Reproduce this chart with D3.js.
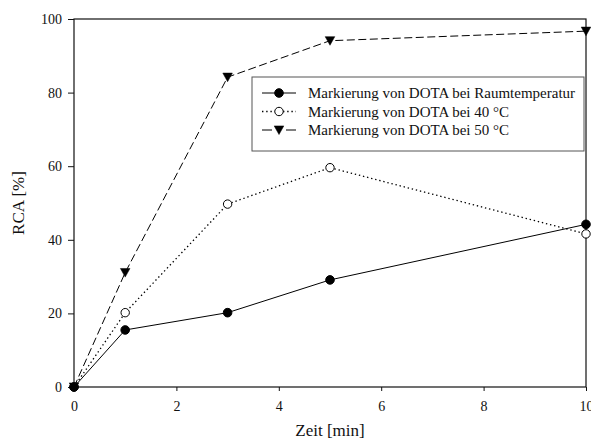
<!DOCTYPE html>
<html>
<head>
<meta charset="utf-8">
<script src="https://cdn.jsdelivr.net/npm/d3@7"></script>
<style>
html, body { margin: 0; padding: 0; background: #fff; }
svg { display: block; }
svg text { font-family: "Liberation Serif", "DejaVu Serif", serif; }
</style>
</head>
<body>
<svg id="chart" width="591" height="446"></svg>
<script>
// Data
const times = [0, 1, 3, 5, 10];
const rtValues = [0, 15.5, 20.2, 29.1, 44.2];
const t40Values = [0, 20.2, 49.7, 59.6, 41.6];
const t50Values = [0, 31.1, 84.2, 94.1, 96.7];
const seriesNames = [
  "Markierung von DOTA bei Raumtemperatur",
  "Markierung von DOTA bei 40 °C",
  "Markierung von DOTA bei 50 °C"
];
const xTicks = [0, 2, 4, 6, 8, 10];
const yTicks = [0, 20, 40, 60, 80, 100];
const xTitle = "Zeit [min]";
const yTitle = "RCA [%]";

const FONT = "Liberation Serif";
const svg = d3.select("#chart");
const L = 74, R = 586, T = 19, B = 387;
const x = d3.scaleLinear().domain([0, 10]).range([L, R]);
const y = d3.scaleLinear().domain([0, 100]).range([B, T]);

// frame
svg.append("rect").attr("x", L).attr("y", T).attr("width", R - L).attr("height", B - T)
  .attr("fill", "none").attr("stroke", "#111").attr("stroke-width", 1.2);

// axes
const xAxis = d3.axisBottom(x).tickValues(xTicks).tickSize(4).tickPadding(10).tickFormat(d3.format("d"));
const gx = svg.append("g").attr("transform", `translate(0,${B})`).call(xAxis)
  .attr("font-family", FONT).attr("font-size", 14);
gx.select(".domain").remove();
gx.selectAll("text").attr("fill", "#111");
gx.selectAll("line").attr("stroke", "#111");

const yAxis = d3.axisLeft(y).tickValues(yTicks).tickSize(6).tickPadding(6).tickFormat(d3.format("d"));
const gy = svg.append("g").attr("transform", `translate(${L},0)`).call(yAxis)
  .attr("font-family", FONT).attr("font-size", 14);
gy.select(".domain").remove();
gy.selectAll("text").attr("fill", "#111");
gy.selectAll("line").attr("stroke", "#111");

// titles
svg.append("text").attr("x", (L + R) / 2).attr("y", 436).attr("text-anchor", "middle")
  .attr("font-family", FONT).attr("font-size", 17).attr("fill", "#111").text(xTitle);
svg.append("text").attr("transform", `translate(24,${(T + B) / 2}) rotate(-90)`).attr("text-anchor", "middle")
  .attr("font-family", FONT).attr("font-size", 17).attr("fill", "#111").text(yTitle);

const series = [
  { name: seriesNames[0], values: rtValues, dash: null, marker: "filled", w: 1 },
  { name: seriesNames[1], values: t40Values, dash: "1.4,2.8", marker: "open", w: 1.3 },
  { name: seriesNames[2], values: t50Values, dash: "8,3.5", marker: "tri", w: 1 }
];

const line = d3.line().x(d => x(d[0])).y(d => y(d[1]));

function drawMarker(g, cx, cy, type) {
  if (type === "filled") {
    g.append("circle").attr("cx", cx).attr("cy", cy).attr("r", 4.3).attr("fill", "#000").attr("stroke", "#000");
  } else if (type === "open") {
    g.append("circle").attr("cx", cx).attr("cy", cy).attr("r", 4.2).attr("fill", "#fff").attr("stroke", "#000").attr("stroke-width", 1);
  } else {
    const s = 4.8;
    g.append("path").attr("d", `M${cx - s},${cy - s * 0.85}L${cx + s},${cy - s * 0.85}L${cx},${cy + s * 0.95}Z`)
      .attr("fill", "#000").attr("stroke", "#000").attr("stroke-width", 0.5);
  }
}

series.forEach(s => {
  const pts = times.map((t, i) => [t, s.values[i]]);
  const p = svg.append("path").datum(pts).attr("d", line).attr("fill", "none")
    .attr("stroke", "#000").attr("stroke-width", s.w);
  if (s.dash) p.attr("stroke-dasharray", s.dash);
});
[2, 1, 0].forEach(k => {
  const s = series[k];
  const g = svg.append("g");
  times.forEach((t, i) => drawMarker(g, x(t), y(s.values[i]), s.marker));
});

// legend
const lg = svg.append("g");
lg.append("rect").attr("x", 252).attr("y", 77).attr("width", 332).attr("height", 74)
  .attr("fill", "#fff").attr("stroke", "#555").attr("stroke-width", 1);
const rowY = [93, 111.5, 130];
series.forEach((s, i) => {
  const yy = rowY[i];
  const l = lg.append("line").attr("x1", 262).attr("x2", 296).attr("y1", yy).attr("y2", yy)
    .attr("stroke", "#000").attr("stroke-width", s.w);
  if (s.dash) l.attr("stroke-dasharray", i === 2 ? "10,14" : s.dash);
  drawMarker(lg, 279, yy, s.marker);
  lg.append("text").attr("x", 308).attr("y", yy + 5).attr("font-family", FONT)
    .attr("font-size", 15).attr("fill", "#111").text(s.name);
});
</script>
</body>
</html>
